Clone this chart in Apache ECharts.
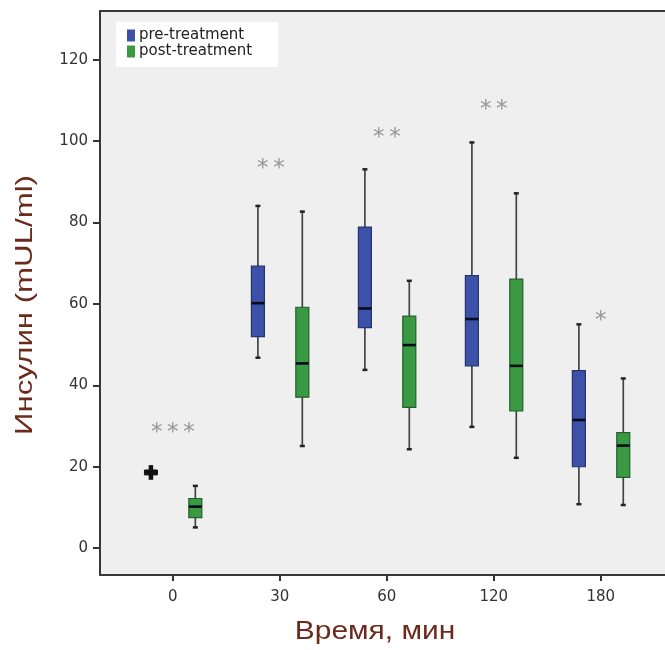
<!DOCTYPE html>
<html><head><meta charset="utf-8">
<script src="https://cdn.jsdelivr.net/npm/echarts@6/dist/echarts.min.js"></script>
<style>html,body{margin:0;padding:0;background:#fff}#c{width:665px;height:650px}</style>
</head><body><div id="c"></div>
<script>
const categories = ['0', '30', '60', '120', '180'];
const yTicks = [0, 20, 40, 60, 80, 100, 120];
// each row: [min, q1, median, q3, max]
const preTreatment = [
  [16.8, 18.0, 18.6, 19.2, 20.4],
  [46.8, 52.0, 60.2, 69.3, 84.1],
  [43.8, 54.2, 58.9, 78.9, 93.1],
  [29.8, 44.8, 56.3, 67.0, 99.7],
  [10.8, 20.0, 31.5, 43.6, 55.0]
];
const postTreatment = [
  [5.1, 7.5, 10.2, 12.2, 15.3],
  [25.1, 37.1, 45.4, 59.2, 82.7],
  [24.3, 34.6, 49.9, 57.0, 65.7],
  [22.2, 33.7, 44.8, 66.1, 87.2],
  [10.6, 17.4, 25.2, 28.4, 41.7]
];
const significance = ['***', '**', '**', '**', '*'];
const significanceY = [29.5, 94.5, 102, 109, 57];

const FONT = '"DejaVu Sans", sans-serif';
const chart = echarts.init(document.getElementById('c'));

function makeRender(offsetFrac, fill, stroke, blackFirst) {
  return function (params, api) {
    const x = api.value(0);
    const band = api.size([1, 0])[0];
    const cx = api.coord([x, 0])[0] + offsetFrac * band;
    const ys = [1, 2, 3, 4, 5].map(i => api.coord([x, api.value(i)])[1]);
    const w = 13;
    const black = blackFirst && params.dataIndex === 0;
    const children = [];
    if (black) {
      children.push({ type: 'line', shape: { x1: cx, y1: ys[0], x2: cx, y2: ys[4] },
        style: { stroke: '#111', lineWidth: 4.5 } });
      children.push({ type: 'rect', shape: { x: cx - w / 2, y: ys[3], width: w, height: ys[1] - ys[3] },
        style: { fill: '#111', stroke: '#111', lineWidth: 1 } });
      return { type: 'group', children };
    }
    children.push({ type: 'line', shape: { x1: cx, y1: ys[0], x2: cx, y2: ys[4] },
      style: { stroke: '#444', lineWidth: 1.7 } });
    children.push({ type: 'line', shape: { x1: cx - 2.5, y1: ys[0], x2: cx + 2.5, y2: ys[0] },
      style: { stroke: '#222', lineWidth: 2.5 } });
    children.push({ type: 'line', shape: { x1: cx - 2.5, y1: ys[4], x2: cx + 2.5, y2: ys[4] },
      style: { stroke: '#222', lineWidth: 2.5 } });
    children.push({ type: 'rect', shape: { x: cx - w / 2, y: ys[3], width: w, height: ys[1] - ys[3] },
      style: { fill: fill, stroke: stroke, lineWidth: 1.2 } });
    children.push({ type: 'line', shape: { x1: cx - w / 2, y1: ys[2], x2: cx + w / 2, y2: ys[2] },
      style: { stroke: '#0a0a1a', lineWidth: 2.6 } });
    return { type: 'group', children };
  };
}

const preData = preTreatment.map((r, i) => [i].concat(r));
const postData = postTreatment.map((r, i) => [i].concat(r));
const starData = significanceY.map((v, i) =>
  i === 1 ? { value: [i, v], label: { offset: [-9, 5] } } : { value: [i, v] });

const axisLineStyle = { color: '#383838', width: 2 };

chart.setOption({
  animation: false,
  backgroundColor: '#ffffff',
  grid: { left: 100, right: 0, top: 11, bottom: 75, show: true,
    backgroundColor: '#efefef', borderWidth: 0 },
  legend: {
    data: ['pre-treatment', 'post-treatment'],
    orient: 'vertical', left: 116, top: 22,
    backgroundColor: '#ffffff', padding: [6, 26, 8, 11],
    itemWidth: 8, itemHeight: 12, itemGap: 1, icon: 'rect',
    textStyle: { fontFamily: FONT, fontSize: 15, lineHeight: 15, color: '#222', padding: [0, 0, 0, -1] }
  },
  xAxis: [{
    type: 'value', min: -0.681, max: 4.600, position: 'bottom',
    axisLine: { show: true, onZero: false, lineStyle: axisLineStyle },
    splitLine: { show: false },
    axisTick: { show: true, customValues: [0, 1, 2, 3, 4], length: 6,
      lineStyle: { color: '#333', width: 2 } },
    axisLabel: { customValues: [0, 1, 2, 3, 4], margin: 15,
      formatter: v => categories[Math.round(v)],
      fontFamily: FONT, fontSize: 15, color: '#333' }
  }, {
    type: 'value', min: -0.681, max: 4.600, position: 'top',
    axisLine: { show: true, onZero: false, lineStyle: axisLineStyle },
    splitLine: { show: false }, axisTick: { show: false }, axisLabel: { show: false }
  }],
  yAxis: {
    type: 'value', min: -6.6, max: 132,
    axisLine: { show: true, onZero: false, lineStyle: axisLineStyle },
    splitLine: { show: false },
    axisTick: { show: true, customValues: yTicks, length: 7,
      lineStyle: { color: '#333', width: 2 } },
    axisLabel: { customValues: yTicks, margin: 12,
      fontFamily: FONT, fontSize: 15, color: '#333' }
  },
  series: [
    { name: 'pre-treatment', type: 'custom', data: preData,
      encode: { x: 0, y: [1, 2, 3, 4, 5] },
      itemStyle: { color: '#3b52a8', borderColor: '#23306b' },
      renderItem: makeRender(-0.205, '#3b52a8', '#26336e', true) },
    { name: 'post-treatment', type: 'custom', data: postData,
      encode: { x: 0, y: [1, 2, 3, 4, 5] },
      itemStyle: { color: '#3a9a44', borderColor: '#1f5e27' },
      renderItem: makeRender(0.21, '#3a9a44', '#226029', false) },
    { name: 'sig', type: 'scatter', data: starData, symbolSize: 1,
      itemStyle: { color: 'rgba(0,0,0,0)' },
      label: { show: true, position: 'inside', offset: [0, 5],
        formatter: p => significance[p.dataIndex].split('').join('\u2009'),
        fontFamily: '"DejaVu Sans", sans-serif', fontSize: 23, color: '#808080' } }
  ],
  graphic: [
    { type: 'text', x: 25, y: 305, rotation: Math.PI / 2, scaleX: 1.3,
      style: { text: 'Инсулин (mUL/ml)', font: '24px "Liberation Sans", Arial, sans-serif',
        fill: '#6b2a1c', align: 'center', verticalAlign: 'middle' } },
    { type: 'text', x: 375, y: 632, scaleX: 1.15,
      style: { text: 'Время, мин', font: '26px "Liberation Sans", Arial, sans-serif',
        fill: '#6b2a1c', align: 'center', verticalAlign: 'middle' } }
  ]
});
</script></body></html>
